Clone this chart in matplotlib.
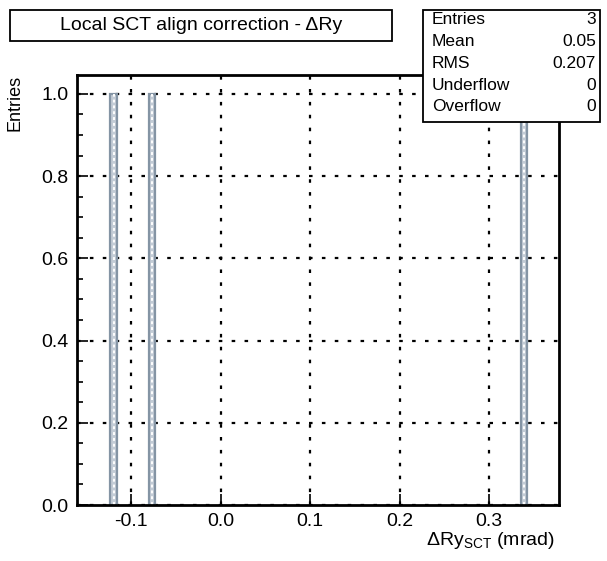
import matplotlib
matplotlib.use("Agg")
import matplotlib.pyplot as plt
from matplotlib.patches import Rectangle
from matplotlib.ticker import MultipleLocator

# histogram content (bin centres in mrad, entries)
bin_centres = [-0.1196, -0.0765, 0.3386]
bin_counts = [1, 1, 1]
bin_width = 0.0072

stats_names = ["Entries", "Mean", "RMS", "Underflow", "Overflow"]
stats_values = ["3", "0.05", "0.207", "0", "0"]

x_ticks = [-0.1, 0.0, 0.1, 0.2, 0.3]
y_ticks = [0.0, 0.2, 0.4, 0.6, 0.8, 1.0]

plt.rcParams['font.family'] = ['Liberation Sans', 'DejaVu Sans']
plt.rcParams['mathtext.fontset'] = 'custom'
plt.rcParams['mathtext.rm'] = 'Liberation Sans'

W, H = 607, 561
fig = plt.figure(figsize=(W / 100, H / 100), dpi=100)
ax = fig.add_axes([77 / W, 1 - 505 / H, (559 - 77) / W, (505 - 75) / H])

ax.bar(bin_centres, bin_counts, width=bin_width, color='#c3ccd6',
       edgecolor='#8494a4', linewidth=1.6, zorder=3)
ax.vlines(bin_centres, 0, bin_counts, colors='white', linestyles=(0, (1.5, 1.5)),
          linewidth=1.4, zorder=4)

ax.set_xlim(-0.1605, 0.378)
ax.set_ylim(0, 1.046)
ax.set_xticks(x_ticks)
ax.set_xticklabels(["-0.1", "0.0", "0.1", "0.2", "0.3"])
ax.set_yticks(y_ticks)
ax.set_yticklabels([f"{v:.1f}" for v in y_ticks])
ax.yaxis.set_minor_locator(MultipleLocator(0.05))
ax.tick_params(axis='both', which='major', direction='in', length=8, width=1.2,
               labelsize=14, top=False, right=False, pad=6)
ax.tick_params(axis='y', which='minor', direction='in', length=4, width=1.2)
ax.grid(True, which='major', color='black', linestyle=(0, (1.6, 4.2)), linewidth=1.6)
ax.set_axisbelow(False)
for s in ax.spines.values():
    s.set_linewidth(2)
    s.set_zorder(5)

fig.text(15 / W, 1 - 75 / H, "Entries", rotation=90, ha='center', va='top', fontsize=13)
fig.text(555 / W, 1 - 545 / H, "\u0394Ry$_{\\mathrm{SCT}}$ (mrad)", ha='right',
         va='baseline', fontsize=14)

# title box
fig.patches.append(Rectangle((10 / W, 1 - 41 / H), (392 - 10) / W, 31 / H,
                             transform=fig.transFigure, fill=True, facecolor='white',
                             edgecolor='black', linewidth=1.3, zorder=10))
fig.text(201 / W, 1 - 26 / H, "Local SCT align correction - \u0394Ry", ha='center',
         va='center', fontsize=14, zorder=11)

# stats box
fig.patches.append(Rectangle((423 / W, 1 - 122 / H), (600 - 423) / W, (122 - 10) / H,
                             transform=fig.transFigure, fill=True, facecolor='white',
                             edgecolor='black', linewidth=1.3, zorder=10))
for i, (n, v) in enumerate(zip(stats_names, stats_values)):
    y = 1 - (19 + i * 22) / H
    fig.text(432 / W, y, n, ha='left', va='center', fontsize=12.5, zorder=11)
    fig.text(596 / W, y, v, ha='right', va='center', fontsize=12.5, zorder=11)

fig.savefig("out.png", dpi=100)
